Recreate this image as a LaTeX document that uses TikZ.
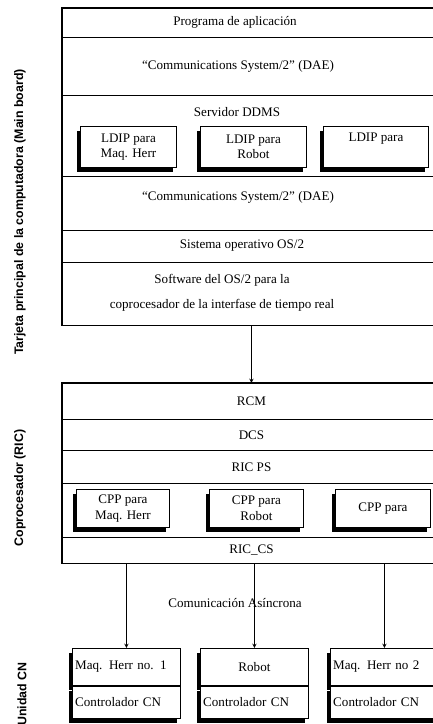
\documentclass[tikz,border=0pt]{standalone}
\usepackage{fontspec}
\setmainfont{Liberation Serif}
\setsansfont{Liberation Sans}
\usetikzlibrary{positioning,shadows}

\begin{document}
\begin{tikzpicture}[x=0.025cm,y=-0.025cm,>=stealth,
        every node/.style={font=\fontsize{9.3}{11}\selectfont},
        layer/.style={draw,line width=0.6pt,minimum width=9.45cm,inner sep=0pt,anchor=north west,align=center},
        modbox/.style={draw,line width=0.6pt,fill=white,align=center,inner sep=1pt,anchor=north west,
                drop shadow={shadow xshift=-2.2pt,shadow yshift=-3.2pt,opacity=1,fill=black}},
        cnbox/.style={draw,line width=0.6pt,fill=white,text width=2.56cm,inner xsep=2pt,inner ysep=0pt,align=left,
                drop shadow={shadow xshift=-2.2pt,shadow yshift=-3.2pt,opacity=1,fill=black}},
        sidelabel/.style={rotate=90,font=\fontsize{8.8}{10}\selectfont\sffamily\bfseries}]
        \useasboundingbox (0,0) rectangle (433,724);

        \node[sidelabel] (Lmain) at (20,212) {Tarjeta principal de la computadora (Main board)};
        \node[sidelabel] (Lric) at (20,488) {Coprocesador (RIC)};
        \node[sidelabel] (Lcn) at (22,694) {Unidad CN};

        \node[layer,minimum height=0.725cm] (app) at (62,8) {};
        \node[layer,minimum height=1.45cm] (dae1) at (62,37) {};
        \node[layer,minimum height=2.025cm] (ddms) at (62,95) {};
        \node[layer,minimum height=1.35cm] (dae2) at (62,176) {};
        \node[layer,minimum height=0.8cm] (os2) at (62,230) {};
        \node[layer,minimum height=1.575cm] (sw) at (62,262) {};
        \draw[line width=0.9pt] (app.north west) rectangle (sw.south east);

        \node (apptxt) at (235,22) {Programa de aplicación};
        \node (dae1txt) at (238,66) {``Communications System/2'' (DAE)};
        \node (ddmstxt) at (237,112) {Servidor DDMS};
        \node (dae2txt) at (238,197) {``Communications System/2'' (DAE)};
        \node (os2txt) at (242,246) {Sistema operativo OS/2};
        \node[align=center] (swtxt) at (222,293) {Software del OS/2 para la\\[7pt]coprocesador de la interfase de tiempo real};

        \node[modbox,minimum width=2.4cm,minimum height=1.025cm] (ldip1) at (80,126) {LDIP para\\Maq. Herr};
        \node[modbox,minimum width=2.65cm,minimum height=1.025cm] (ldip2) at (200,126) {LDIP para\\Robot};
        \node[modbox,minimum width=2.625cm,minimum height=1.025cm] (ldip3) at (323,126) {LDIP para\\\strut};

        \node[layer,minimum height=0.9cm] (rcm) at (62,383) {RCM};
        \node[layer,minimum height=0.775cm] (dcs) at (62,419) {DCS};
        \node[layer,minimum height=0.825cm] (ricps) at (62,450) {RIC PS};
        \node[layer,minimum height=1.35cm] (cpplay) at (62,483) {};
        \node[layer,minimum height=0.65cm] (riccs) at (62,537) {RIC\_CS};
        \draw[line width=0.9pt] (rcm.north west) rectangle (riccs.south east);

        \node[modbox,minimum width=2.325cm,minimum height=0.95cm] (cpp1) at (76,489) {CPP para\\Maq. Herr};
        \node[modbox,minimum width=2.35cm,minimum height=0.95cm] (cpp2) at (209,489) {CPP para\\Robot};
        \node[modbox,minimum width=2.375cm,minimum height=0.95cm] (cpp3) at (335,489) {CPP para};

        \node[cnbox,anchor=north west,minimum height=0.925cm] (cn1) at (72,648) {Maq. Herr no. 1};
        \node[cnbox,below=0pt of cn1,minimum height=0.8cm] (cn1c) {Controlador CN};
        \node[cnbox,anchor=north west,minimum height=0.925cm,align=center] (cn2) at (200,648) {Robot};
        \node[cnbox,below=0pt of cn2,minimum height=0.8cm] (cn2c) {Controlador CN};
        \node[cnbox,anchor=north west,minimum height=0.925cm] (cn3) at (330,648) {Maq. Herr no 2};
        \node[cnbox,below=0pt of cn3,minimum height=0.8cm] (cn3c) {Controlador CN};

        \node (asin) at (235,603) {Comunicación Asíncrona};

        \draw[->] (sw.south) -- (rcm.north);
        \draw[->] (riccs.south -| cn1.north) -- (cn1.north);
        \draw[->] (riccs.south -| cn2.north) -- (cn2.north);
        \draw[->] (riccs.south -| cn3.north) -- (cn3.north);
    \end{tikzpicture}
\end{document}
